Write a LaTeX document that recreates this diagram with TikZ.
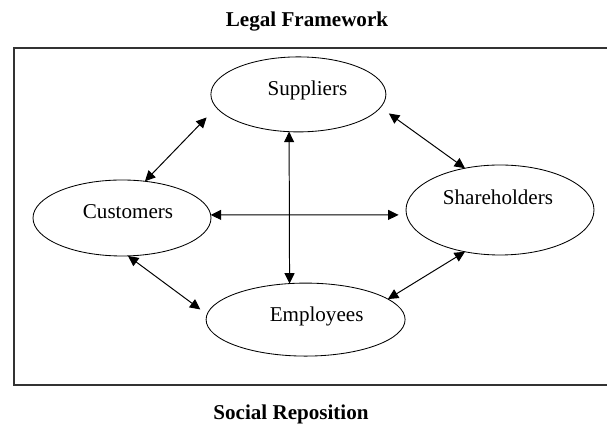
\documentclass[tikz,border=0pt]{standalone}
\usepackage{fontspec}
\setmainfont{Liberation Serif}
\usetikzlibrary{shapes,arrows.meta,positioning}
\tikzset{
    party/.style={ellipse, draw, line width=0.6pt, inner sep=0pt, outer sep=0pt},
    link/.style={draw, line width=0.7pt, {Triangle[length=2.6mm,width=2.5mm]}-{Triangle[length=2.6mm,width=2.5mm]}},
    heading/.style={font=\fontsize{15}{17}\selectfont\bfseries, anchor=base}
}

\begin{document}
\begin{tikzpicture}[font=\fontsize{15}{17}\selectfont]
    \useasboundingbox (0,0) rectangle (15.175,10.6);

    % Frame, open to the right
    \draw[line width=1.2pt, black!80] (15.175,9.4) -- (0.35,9.4) -- (0.35,0.975) -- (15.175,0.975);

    % Headings
    \node[heading] (legal) at (7.675,9.925) {Legal Framework};
    \node[heading] (social) at (7.275,0.1) {Social Reposition};

    % Stakeholders
    \node[party, minimum width=4.375cm, minimum height=1.875cm,
        label={[xshift=0.225cm, yshift=0.1cm]center:Suppliers}] (sup) at (7.46,8.24) {};
    \node[party, minimum width=4.45cm, minimum height=1.9cm,
        label={[xshift=0.15cm, yshift=0.16cm]center:Customers}] (cus) at (3.05,5.15) {};
    \node[party, minimum width=4.7cm, minimum height=2.25cm,
        label={[xshift=-0.05cm, yshift=0.31cm]center:Shareholders}] (sha) at (12.5,5.35) {};
    \node[party, minimum width=4.975cm, minimum height=1.825cm,
        label={[xshift=0.275cm, yshift=0.09cm]center:Employees}] (emp) at (7.64,2.61) {};

    % Relations
    \draw[link, shorten >=0.35cm] (cus.58) -- (sup.189);
    \draw[link, shorten <=0.26cm] (sup.351) -- (sha.130);
    \draw[link, shorten >=0.21cm] (cus.279) -- (emp.177);
    \draw[link] (sha.230) -- (emp.14);
    \draw[link] (sup.256) -- (emp.114);
    \draw[link, shorten >=0.2cm] (cus.2) -- (sha.183);
\end{tikzpicture}
\end{document}
